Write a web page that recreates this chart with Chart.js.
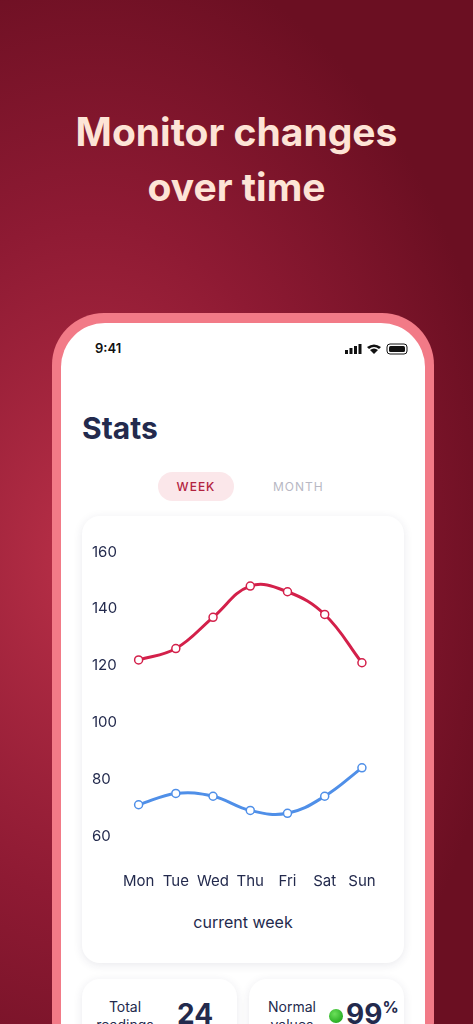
<!DOCTYPE html>
<html>
<head>
<meta charset="utf-8">
<script src="https://cdn.jsdelivr.net/npm/chart.js@4"></script>
<style>
  html, body { margin: 0; padding: 0; }
  body {
    width: 473px; height: 1024px; overflow: hidden; position: relative;
    font-family: Inter, "Noto Sans", sans-serif;
    background: radial-gradient(ellipse 420px 620px at 90px 560px, #b93048 0%, #8e1a33 55%, #6b0f22 100%);
  }
  .title {
    position: absolute; top: 104px; left: 0; width: 473px; text-align: center;
    color: #fde4d6; font-size: 39px; font-weight: 700; line-height: 55px;
  }
  .frame {
    position: absolute; left: 52px; top: 313px; width: 382px; height: 760px;
    background: #f27a87; border-radius: 52px;
  }
  .screen {
    position: absolute; left: 61px; top: 323px; width: 364px; height: 760px;
    background: #fff; border-radius: 44px;
  }
  .time { position: absolute; left: 95px; top: 340px; font-size: 13px; font-weight: 600; color: #111; }
  .icons { position: absolute; left: 345px; top: 343px; }
  .stats { position: absolute; left: 82px; top: 410px; font-size: 30px; font-weight: 700; color: #232a4d; }
  .pill {
    position: absolute; left: 158px; top: 472px; width: 76px; height: 29px; border-radius: 15px;
    background: #fbe7ea; color: #b3223f; font-size: 12px; letter-spacing: 1px;
    text-align: center; line-height: 29px; font-weight: 500;
  }
  .month { position: absolute; left: 273px; top: 472px; line-height: 29px; font-size: 12px; letter-spacing: 1px; color: #b8b8c4; }
  .card {
    position: absolute; background: #fff; border-radius: 18px;
    box-shadow: 0 2px 10px rgba(40,40,80,0.10);
  }
  #chartWrap { position: absolute; left: 82px; top: 530px; width: 322px; height: 360px; }
  .caption { position: absolute; left: 82px; width: 322px; top: 912px; text-align: center; font-size: 16px; color: #232a4d; }
  .small { position: absolute; font-size: 14px; color: #232a4d; text-align: center; line-height: 18px; }
  .big { position: absolute; font-size: 28px; font-weight: 700; color: #232a4d; }
</style>
</head>
<body>
<div class="title">Monitor changes<br>over time</div>
<div class="frame"></div>
<div class="screen"></div>
<div class="time">9:41</div>
<svg class="icons" width="65" height="12" viewBox="0 0 65 12">
  <rect x="0" y="7" width="3" height="4" fill="#111"/><rect x="4.5" y="5" width="3" height="6" fill="#111"/>
  <rect x="9" y="3" width="3" height="8" fill="#111"/><rect x="13.5" y="1" width="3" height="10" fill="#111"/>
  <path d="M22 4 Q29 -1 36 4 L34 6 Q29 2 24 6 Z M25 7 Q29 4 33 7 L29 11 Z" fill="#111"/>
  <rect x="42" y="1" width="20" height="10" rx="3" fill="none" stroke="#111" stroke-width="1"/>
  <rect x="44" y="3" width="16" height="6" rx="1.5" fill="#111"/>
</svg>
<div class="stats">Stats</div>
<div class="pill">WEEK</div>
<div class="month">MONTH</div>
<div class="card" style="left:82px;top:516px;width:322px;height:447px;"></div>
<div id="chartWrap"><canvas id="myChart"></canvas></div>
<div class="caption">current week</div>
<div class="card" style="left:82px;top:979px;width:155px;height:80px;"></div>
<div class="card" style="left:249px;top:979px;width:155px;height:80px;"></div>
<div class="small" style="left:90px;top:998px;width:70px;">Total<br>readings</div>
<div class="big" style="left:177px;top:997px;">24</div>
<div class="small" style="left:257px;top:998px;width:70px;">Normal<br>values</div>
<div style="position:absolute;left:329px;top:1009px;width:14px;height:14px;border-radius:7px;background:radial-gradient(circle at 40% 35%,#6be05a,#119b10);"></div>
<div class="big" style="left:346px;top:997px;">99<span style="font-size:16px;vertical-align:top;">%</span></div>

<script>
const days = ['Mon', 'Tue', 'Wed', 'Thu', 'Fri', 'Sat', 'Sun'];
const systolic = [122, 126, 137, 148, 146, 138, 121];
const diastolic = [71, 75, 74, 69, 68, 74, 84];
const yTicks = [60, 80, 100, 120, 140, 160];

const tickColor = '#232a4d';

const data = {
  labels: days,
  datasets: [{
    label: 'Systolic',
    data: systolic,
    borderColor: '#d3204a',
    pointBorderColor: '#d3204a',
  }, {
    label: 'Diastolic',
    data: diastolic,
    borderColor: '#4f8fe8',
    pointBorderColor: '#4f8fe8',
  }]
};

const config = {
  type: 'line',
  data,
  options: {
    responsive: true,
    maintainAspectRatio: false,
    animation: false,
    layout: { padding: { top: 22, left: 10, right: 1 } },
    plugins: { legend: { display: false }, tooltip: { enabled: false } },
    elements: {
      line: { tension: 0.4, borderWidth: 3 },
      point: { radius: 4, borderWidth: 1.5, backgroundColor: '#fff' }
    },
    scales: {
      y: {
        min: 60, max: 160,
        afterBuildTicks: (axis) => { axis.ticks = yTicks.map(v => ({ value: v })); },
        afterFit: (axis) => { axis.width = 28; },
        grid: { display: false },
        border: { display: false },
        ticks: { color: tickColor, font: { size: 15, family: 'Inter' }, padding: 0, crossAlign: 'far' }
      },
      x: {
        offset: true,
        afterFit: (axis) => { axis.height = 54; },
        grid: { display: false },
        border: { display: false },
        ticks: { color: tickColor, font: { size: 15, family: 'Inter' }, padding: 28 }
      }
    }
  }
};

var myChart = new Chart(document.getElementById('myChart'), config);
</script>
</body>
</html>
